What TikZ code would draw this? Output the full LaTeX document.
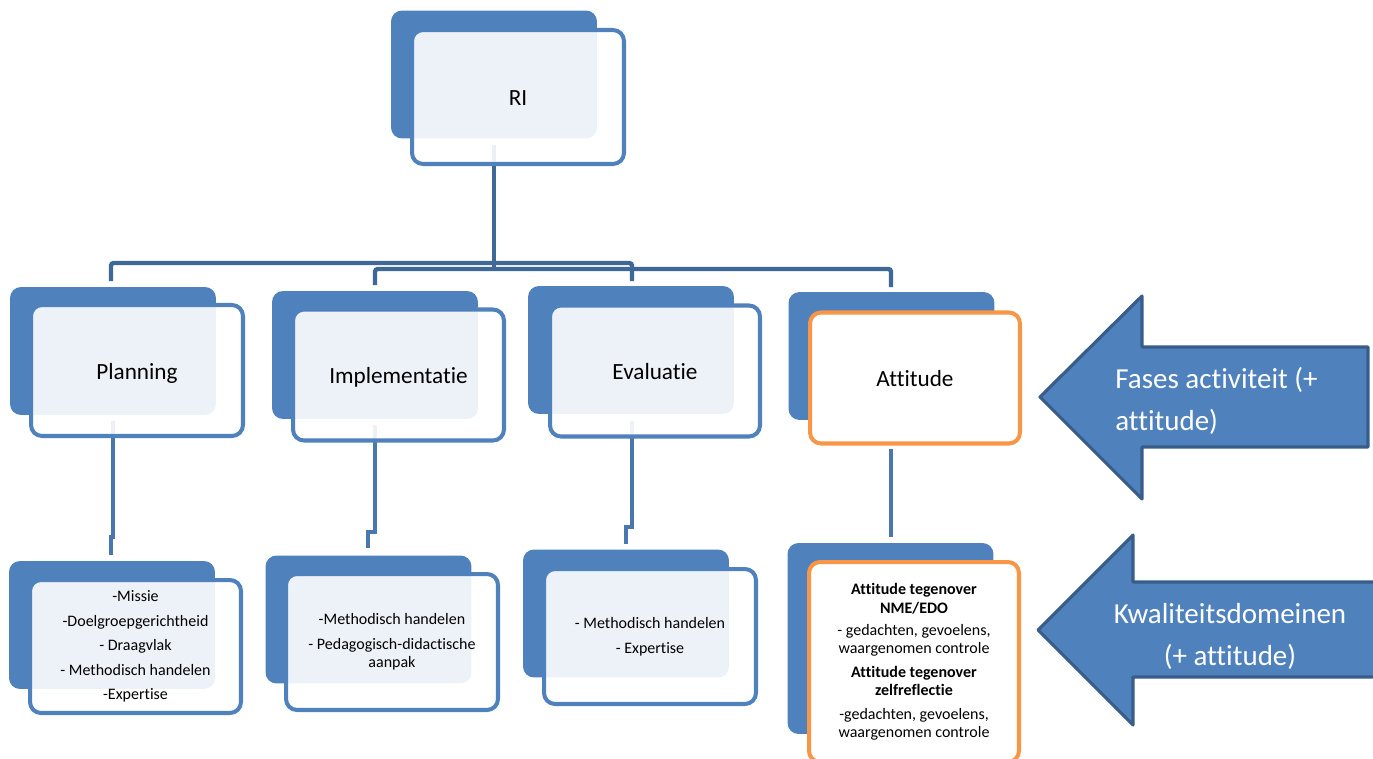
\documentclass[tikz,border=0pt]{standalone}
\usepackage{fontspec}
\setmainfont[Ligatures=NoCommon]{Carlito}
\usepackage{tikz}
\usetikzlibrary{positioning}
\definecolor{accent1}{RGB}{79,129,189}
\definecolor{accent1dark}{RGB}{56,93,138}
\definecolor{busline}{RGB}{62,104,152}
\definecolor{accent6}{RGB}{247,150,70}

\tikzset{
  backbox/.style={fill=accent1, rounded corners=0.22cm, inner sep=0pt,
                  minimum width=4.12cm, minimum height=2.56cm},
  frontbox/.style={draw=accent1, line width=2.3pt, fill=white, fill opacity=0.9,
                   text opacity=1, rounded corners=0.22cm, inner sep=0pt, align=center,
                   minimum width=4.24cm, minimum height=2.62cm},
  attbox/.style={frontbox, draw=accent6, fill opacity=1},
  bigfont/.style={font=\fontsize{13.2}{15}\selectfont, text height=9.9pt, text depth=0pt},
  smallfont/.style={font=\fontsize{9.1}{10.5}\selectfont},
  conn/.style={draw=accent1!92!black, line width=2.2pt},
  bus/.style={draw=busline, line width=2.5pt, rounded corners=1.5pt},
  bigarrow/.style={fill=accent1, draw=accent1dark, line width=1.8pt, line join=round},
  arrowtext/.style={text=white, inner sep=0pt, font=\fontsize{16.5}{23.9}\selectfont}
}

\begin{document}
\begin{tikzpicture}[x=0.02cm,y=-0.02cm]
\useasboundingbox (0,0) rectangle (1373,758);

% back boxes
\node[backbox] (riB) at (494,74.5) {};
\node[backbox] (planB) at (113,351) {};
\node[backbox] (implB) at (375,355) {};
\node[backbox] (evalB) at (631,350) {};
\node[backbox] (attB) at (891.5,356) {};
\node[backbox] (planDB) at (112,625) {};
\node[backbox] (implDB) at (368.5,619.5) {};
\node[backbox] (evalDB) at (626,613.5) {};
\node[backbox,minimum height=3.82cm] (attDB) at (890.5,638.5) {};

% connectors
\coordinate (riFoot) at (494,145);
\coordinate (busMid) at (494,268);
\coordinate (planTop) at (111,281);
\coordinate (implTop) at (375,285);
\coordinate (evalTop) at (632,281);
\coordinate (attTop) at (891,287);
\draw[bus] (riFoot) -- (busMid);
\draw[bus] (planTop) |- (632,263) -- (evalTop);
\draw[bus] (implTop) |- (891,269) -- (attTop);

\coordinate (planFoot) at (113,421);
\coordinate (planDTop) at (111,555);
\coordinate (implFoot) at (375,425);
\coordinate (implDTop) at (368,548);
\coordinate (evalFoot) at (632,421);
\coordinate (evalDTop) at (626,544);
\coordinate (attFoot) at (891,449);
\coordinate (attDTop) at (891,537);
\draw[conn] (planFoot) |- (111,537) -- (planDTop);
\draw[conn] (implFoot) |- (368,532) -- (implDTop);
\draw[conn] (evalFoot) |- (626,527) -- (evalDTop);
\draw[conn] (attFoot) -- (attDTop);

% front boxes
\node[frontbox,bigfont,minimum height=2.68cm] (ri) at (518,97) {RI};
\node[frontbox,bigfont] (plan) at (137,370.5) {Planning};
\node[frontbox,bigfont,minimum width=4.22cm] (impl) at (398.5,375) {Implementatie};
\node[frontbox,bigfont,minimum width=4.2cm] (eval) at (655,371) {Evaluatie};
\node[attbox,bigfont,minimum width=4.2cm] (att) at (915,378) {Attitude};

\node[frontbox,smallfont,minimum width=4.22cm,minimum height=2.66cm] (planD) at (135.5,646.5)
  {-Missie\\[3.5pt] -Doelgroepgerichtheid\\[3.5pt] - Draagvlak\\[3.5pt] - Methodisch handelen\\[3.5pt] -Expertise};
\node[frontbox,smallfont,minimum height=2.72cm] (implD) at (392,642)
  {-Methodisch handelen\\[3.5pt] - Pedagogisch-didactische\\ aanpak};
\node[frontbox,smallfont,minimum height=2.7cm] (evalD) at (650,636.5)
  {- Methodisch handelen\\[3.5pt] - Expertise};
\node[attbox,smallfont,minimum width=4.2cm,minimum height=4cm] (attD) at (914,662)
  {\textbf{Attitude tegenover}\\ \textbf{NME/EDO}\\[2pt] - gedachten, gevoelens,\\ waargenomen controle\\[3pt]
   \textbf{Attitude tegenover}\\ \textbf{zelfreflectie}\\[3pt] -gedachten, gevoelens,\\ waargenomen controle};

% arrows
\draw[bigarrow] (1040,397) -- (1142,296) -- (1142,347) -- (1368,347) -- (1368,447)
  -- (1142,447) -- (1142,499) -- cycle;
\node[arrowtext,anchor=west,align=left] (fases) at (1115,401) {Fases activiteit (+\\attitude)};
\draw[bigarrow] (1038,630) -- (1133,535) -- (1133,582) -- (1390,582) -- (1390,677)
  -- (1133,677) -- (1133,725) -- cycle;
\node[arrowtext,align=center] (kwal) at (1230,636) {Kwaliteitsdomeinen\\(+ attitude)};
\end{tikzpicture}
\end{document}
